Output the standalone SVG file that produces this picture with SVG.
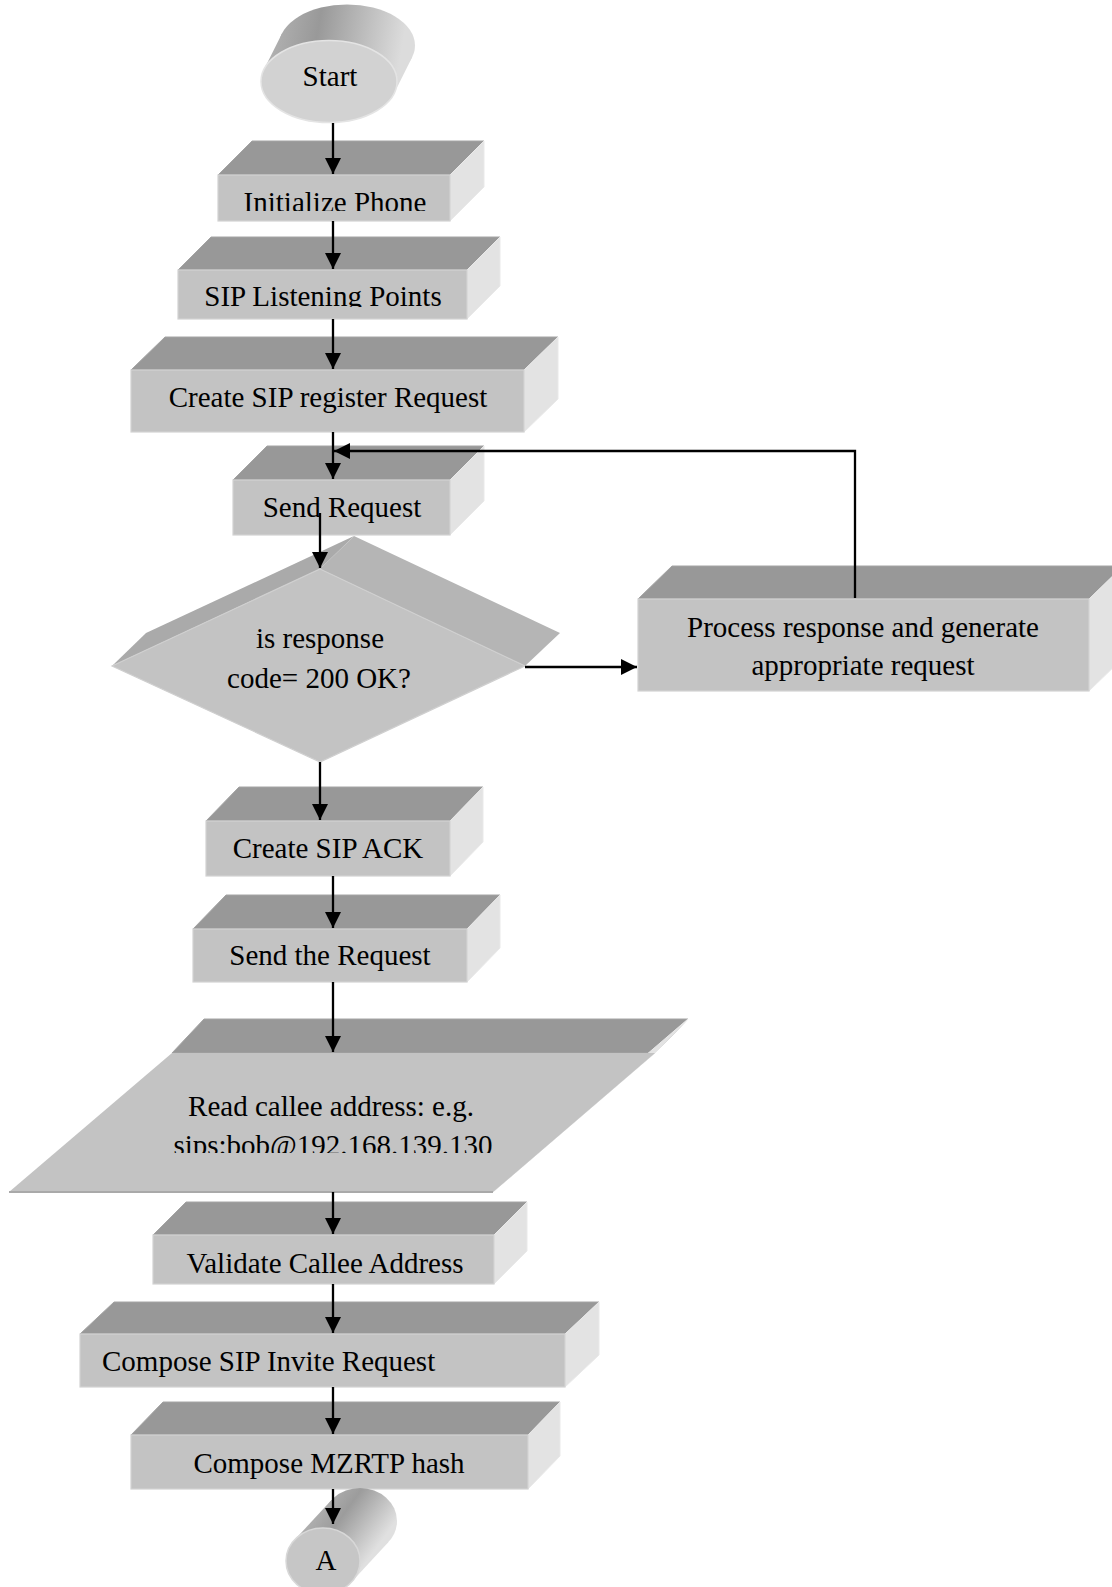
<svg xmlns="http://www.w3.org/2000/svg" width="1112" height="1587" viewBox="0 0 1112 1587">
  <style>
    .top{fill:#989898;stroke:#a4a4a4;stroke-width:1}
    .front{fill:#c3c3c3;stroke:#d3d3d3;stroke-width:1.2}
    .side{fill:#e3e3e3;stroke:#e9e9e9;stroke-width:1}
    .band1{fill:#aaaaaa}
    .band2{fill:#b5b5b5}
    .lbl{font-family:"Liberation Serif","Times New Roman",serif;font-size:29px;fill:#000;text-anchor:middle}
    .conn{stroke:#000;stroke-width:2.3;fill:none}
  </style>
  <defs>
    <marker id="arrow" markerUnits="userSpaceOnUse" markerWidth="17" markerHeight="17" refX="16" refY="8" orient="auto">
      <path d="M0,0 L16,8 L0,16 z" fill="#000"/>
    </marker>
    <linearGradient id="startBody" gradientUnits="userSpaceOnUse" x1="264" y1="70" x2="394" y2="93">
      <stop offset="0" stop-color="#b2b2b2"/>
      <stop offset="0.35" stop-color="#999999"/>
      <stop offset="1" stop-color="#dcdcdc"/>
    </linearGradient>
    <linearGradient id="aBody" gradientUnits="userSpaceOnUse" x1="294" y1="1540" x2="352" y2="1582">
      <stop offset="0" stop-color="#b0b0b0"/>
      <stop offset="0.35" stop-color="#9c9c9c"/>
      <stop offset="1" stop-color="#e0e0e0"/>
    </linearGradient>
    <clipPath id="clipInit"><rect x="200" y="150" width="300" height="61"/></clipPath>
    <clipPath id="clipListen"><rect x="170" y="250" width="320" height="57"/></clipPath>
    <clipPath id="clipSips"><rect x="100" y="1120" width="500" height="33"/></clipPath>
  </defs>

  <!-- terminator: Start -->
  <g id="start">
    <ellipse cx="347" cy="45.5" rx="68" ry="41" fill="url(#startBody)"/>
    <polygon points="394.1,93.3 412.1,57.3 281.9,33.7 263.9,69.7" fill="url(#startBody)"/>
    <ellipse cx="329" cy="81.5" rx="68" ry="41" fill="#d2d2d2" stroke="#e4e4e4" stroke-width="1.5"/>
    <text class="lbl" x="330" y="86">Start</text>
  </g>

  <g id="init-phone">
    <polygon class="top" points="218,175 252,141 484,141 450,175"/>
    <polygon class="side" points="450,175 484,141 484,187 450,221"/>
    <rect class="front" x="218" y="175" width="232" height="46"/>
    <text class="lbl" x="335" y="212" clip-path="url(#clipInit)">Initialize Phone</text>
  </g>

  <g id="listening-points">
    <polygon class="top" points="178,270 211,237 500,237 467,270"/>
    <polygon class="side" points="467,270 500,237 500,286 467,319"/>
    <rect class="front" x="178" y="270" width="289" height="49"/>
    <text class="lbl" x="323" y="306" clip-path="url(#clipListen)">SIP Listening Points</text>
  </g>

  <g id="register-request">
    <polygon class="top" points="131,370 165,337 558,337 524,370"/>
    <polygon class="side" points="524,370 558,337 558,399 524,432"/>
    <rect class="front" x="131" y="370" width="393" height="62"/>
    <text class="lbl" x="328" y="407">Create SIP register Request</text>
  </g>

  <g id="send-request">
    <polygon class="top" points="233,480 267,446 484,446 450,480"/>
    <polygon class="side" points="450,480 484,446 484,501 450,535"/>
    <rect class="front" x="233" y="480" width="217" height="55"/>
    <text class="lbl" x="342" y="517">Send Request</text>
  </g>

  <g id="response-check">
    <polygon class="band1" points="112,666 146,633 354,536 320,569"/>
    <polygon class="band2" points="320,569 354,536 560,633 525,666"/>
    <polygon points="320,569 525,666 320,762 112,666" fill="#c3c3c3" stroke="#cfcfcf" stroke-width="1.2"/>
    <text class="lbl" x="320" y="648">is response</text>
    <text class="lbl" x="319" y="688">code= 200 OK?</text>
  </g>

  <g id="process-response">
    <polygon class="top" points="638,599 672,566 1123,566 1089,599"/>
    <polygon class="side" points="1089,599 1123,566 1123,658 1089,691"/>
    <rect class="front" x="638" y="599" width="451" height="92"/>
    <text class="lbl" x="863" y="637">Process response and generate</text>
    <text class="lbl" x="863" y="675">appropriate request</text>
  </g>

  <g id="create-ack">
    <polygon class="top" points="206,821 239,787 483,787 450,821"/>
    <polygon class="side" points="450,821 483,787 483,842 450,876"/>
    <rect class="front" x="206" y="821" width="244" height="55"/>
    <text class="lbl" x="328" y="858">Create SIP ACK</text>
  </g>

  <g id="send-the-request">
    <polygon class="top" points="193,929 226,895 500,895 467,929"/>
    <polygon class="side" points="467,929 500,895 500,948 467,982"/>
    <rect class="front" x="193" y="929" width="274" height="53"/>
    <text class="lbl" x="330" y="965">Send the Request</text>
  </g>

  <!-- input/output: callee address -->
  <g id="read-callee">
    <polygon class="top" points="172,1053 204,1019 688,1019 655,1053"/>
    <polygon class="side" points="655,1053 688,1019 526,1158 493,1192"/>
    <polygon points="172,1053 655,1053 493,1192 9,1192" fill="#c3c3c3"/>
    <line x1="9" y1="1192" x2="493" y2="1192" stroke="#a9a9a9" stroke-width="2"/>
    <text class="lbl" x="331" y="1116">Read callee address: e.g.</text>
    <text class="lbl" x="333" y="1155" clip-path="url(#clipSips)">sips:bob@192.168.139.130</text>
  </g>

  <g id="validate-callee">
    <polygon class="top" points="153,1235 186,1202 527,1202 494,1235"/>
    <polygon class="side" points="494,1235 527,1202 527,1251 494,1284"/>
    <rect class="front" x="153" y="1235" width="341" height="49"/>
    <text class="lbl" x="325" y="1273">Validate Callee Address</text>
  </g>

  <g id="invite-request">
    <polygon class="top" points="80,1334 114,1302 599,1302 565,1334"/>
    <polygon class="side" points="565,1334 599,1302 599,1355 565,1387"/>
    <rect class="front" x="80" y="1334" width="485" height="53"/>
    <text class="lbl" x="102" y="1371" style="text-anchor:start">Compose SIP Invite Request</text>
  </g>

  <g id="mzrtp-hash">
    <polygon class="top" points="131,1435 163,1402 560,1402 528,1435"/>
    <polygon class="side" points="528,1435 560,1402 560,1456 528,1489"/>
    <rect class="front" x="131" y="1435" width="397" height="54"/>
    <text class="lbl" x="329" y="1473">Compose MZRTP hash</text>
  </g>

  <!-- off-page connector A -->
  <g id="connector-a">
    <ellipse cx="360" cy="1521" rx="37" ry="33" fill="url(#aBody)"/>
    <polygon points="351.5,1582 388.5,1542 331.5,1500 294.5,1540" fill="url(#aBody)"/>
    <ellipse cx="323" cy="1561" rx="37" ry="33" fill="#c6c6c6" stroke="#d8d8d8" stroke-width="1.5"/>
    <text class="lbl" x="326" y="1570">A</text>
  </g>

  <g id="connectors">
    <path class="conn" d="M333,123 V174" marker-end="url(#arrow)"/>
    <path class="conn" d="M333,221 V269" marker-end="url(#arrow)"/>
    <path class="conn" d="M333,319 V369" marker-end="url(#arrow)"/>
    <path class="conn" d="M333,432 V479" marker-end="url(#arrow)"/>
    <path class="conn" d="M320,513 V568" marker-end="url(#arrow)"/>
    <path class="conn" d="M525,667 H637" marker-end="url(#arrow)"/>
    <path class="conn" d="M855,598 V451 H334" marker-end="url(#arrow)"/>
    <path class="conn" d="M320,762 V820" marker-end="url(#arrow)"/>
    <path class="conn" d="M333,876 V928" marker-end="url(#arrow)"/>
    <path class="conn" d="M333,982 V1052" marker-end="url(#arrow)"/>
    <path class="conn" d="M333,1192 V1234" marker-end="url(#arrow)"/>
    <path class="conn" d="M333,1284 V1333" marker-end="url(#arrow)"/>
    <path class="conn" d="M333,1387 V1434" marker-end="url(#arrow)"/>
    <path class="conn" d="M333,1489 V1524" marker-end="url(#arrow)"/>
  </g>
</svg>
